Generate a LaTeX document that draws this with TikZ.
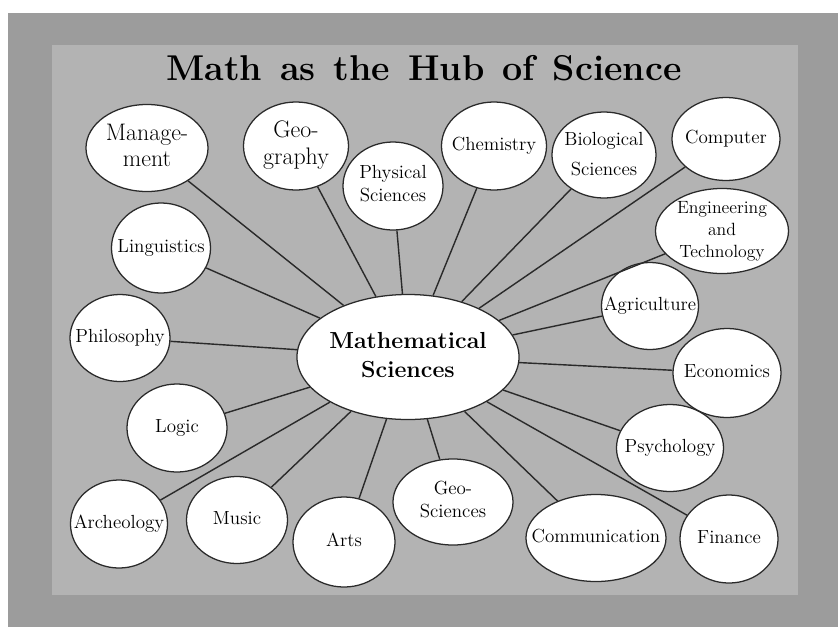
\documentclass[tikz,border=0pt]{standalone}
\usetikzlibrary{shapes.geometric}
\definecolor{framegray}{HTML}{9C9C9C}
\definecolor{panelgray}{HTML}{B3B3B3}
\definecolor{rimblack}{HTML}{2A2A2A}
\newcommand{\topictext}[1]{\makebox[0pt]{\smash{\raisebox{-0.25em}{\begin{tabular}{@{}c@{}}#1\end{tabular}}}}}

\begin{document}
\begin{tikzpicture}[
  x=0.025cm, y=-0.025cm,
  topic/.style={ellipse, draw=rimblack, line width=0.9pt, fill=white, inner sep=0pt, font=\fontsize{13.5}{16}\selectfont},
  hub/.style={ellipse, draw=rimblack, line width=0.9pt, fill=white, inner sep=0pt, font=\fontsize{16.5}{20.6}\selectfont\bfseries},
  link/.style={draw=rimblack, line width=1pt}
]

  % Page and frame
  \useasboundingbox (0,0) rectangle (838,627);
  \fill[white] (0,0) rectangle (838,627);
  \fill[framegray] (8,13) rectangle (838,627);
  \fill[panelgray] (52,45) rectangle (798,595);

  % Title
  \node[font=\fontsize{25.5}{28}\selectfont\bfseries, anchor=base] (title) at (424,80) {\spaceskip=0.5em Math as the Hub of Science};

  % ==================== HUB ====================
  \node[hub, minimum width=5.55cm, minimum height=3.125cm] (hub) at (408,357) {\topictext{Mathematical\\Sciences}};

  % ==================== TOP ROW ====================
  \node[topic, font=\fontsize{17}{18.5}\selectfont, minimum width=3.05cm, minimum height=2.175cm] (mgmt) at (147,148) {\topictext{Manage-\\ment}};
  \node[topic, font=\fontsize{17}{19}\selectfont, minimum width=2.625cm, minimum height=2.2cm] (geog) at (296,146) {\topictext{Geo-\\graphy}};
  \node[topic, minimum width=2.5cm, minimum height=2.2cm] (phys) at (393,186) {\topictext{Physical\\Sciences}};
  \node[topic, minimum width=2.625cm, minimum height=2.2cm] (chem) at (494,146) {\topictext{Chemistry}};
  \node[topic, font=\fontsize{13.5}{21}\selectfont, minimum width=2.6cm, minimum height=2.15cm] (bio) at (604,155) {\topictext{Biological\\Sciences}};
  \node[topic, minimum width=2.7cm, minimum height=2.075cm] (comp) at (726,139) {\topictext{Computer}};

  % ==================== RIGHT SIDE ====================
  \node[topic, font=\fontsize{12.6}{15.6}\selectfont, minimum width=3.325cm, minimum height=2.125cm] (eng) at (722,231) {\topictext{Engineering\\and\\Technology}};
  \node[topic, minimum width=2.425cm, minimum height=2.175cm] (agri) at (650,306) {\topictext{Agriculture}};
  \node[topic, minimum width=2.7cm, minimum height=2.225cm] (econ) at (727,373) {\topictext{Economics}};
  \node[topic, minimum width=2.675cm, minimum height=2.175cm] (psych) at (670,448) {\topictext{Psychology}};
  \node[topic, minimum width=2.45cm, minimum height=2.2cm] (fin) at (729,539) {\topictext{Finance}};

  % ==================== BOTTOM ROW ====================
  \node[topic, minimum width=3.5cm, minimum height=2.175cm] (comm) at (596,538) {\topictext{Communication}};
  \node[topic, minimum width=3.0cm, minimum height=2.15cm] (geosci) at (453,502) {\topictext{Geo-\\Sciences}};
  \node[topic, minimum width=2.55cm, minimum height=2.25cm] (arts) at (344,542) {\topictext{Arts}};
  \node[topic, minimum width=2.525cm, minimum height=2.175cm] (music) at (237,520) {\topictext{Music}};
  \node[topic, minimum width=2.425cm, minimum height=2.2cm] (arch) at (119,524) {\topictext{Archeology}};

  % ==================== LEFT SIDE ====================
  \node[topic, minimum width=2.5cm, minimum height=2.2cm] (logic) at (177,428) {\topictext{Logic}};
  \node[topic, minimum width=2.5cm, minimum height=2.175cm] (philo) at (120,338) {\topictext{Philosophy}};
  \node[topic, minimum width=2.475cm, minimum height=2.25cm] (ling) at (161,248) {\topictext{Linguistics}};

  % Spokes
  \foreach \n in {mgmt,geog,phys,chem,bio,comp,eng,agri,econ,psych,fin,comm,geosci,arts,music,arch,logic,philo,ling}
    \draw[link] (hub) -- (\n);

\end{tikzpicture}
\end{document}
